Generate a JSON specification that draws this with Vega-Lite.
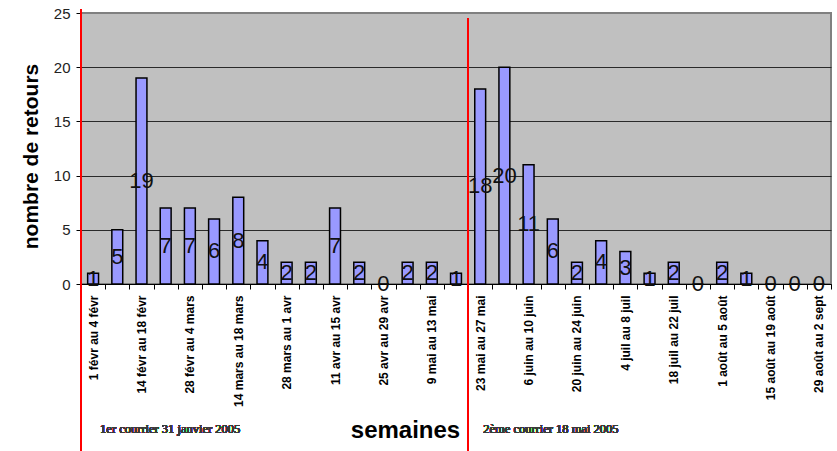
{
  "$schema": "https://vega.github.io/schema/vega-lite/v6.json",
  "autosize": "none",
  "width": 750,
  "height": 271,
  "padding": {"left": 81, "top": 13, "right": 6, "bottom": 167},
  "background": "#ffffff",
  "config": {
    "view": {"fill": "#c0c0c0", "stroke": "#808080", "strokeWidth": 2},
    "font": "Liberation Sans"
  },
  "data": {
    "values": [
      {"semaine": "1 févr au 4 févr", "retours": 1},
      {"semaine": "7 févr au 11 févr", "retours": 5},
      {"semaine": "14 févr au 18 févr", "retours": 19},
      {"semaine": "21 févr au 25 févr", "retours": 7},
      {"semaine": "28 févr au 4 mars", "retours": 7},
      {"semaine": "7 mars au 11 mars", "retours": 6},
      {"semaine": "14 mars au 18 mars", "retours": 8},
      {"semaine": "21 mars au 25 mars", "retours": 4},
      {"semaine": "28 mars au 1 avr", "retours": 2},
      {"semaine": "4 avr au 8 avr", "retours": 2},
      {"semaine": "11 avr au 15 avr", "retours": 7},
      {"semaine": "18 avr au 22 avr", "retours": 2},
      {"semaine": "25 avr au 29 avr", "retours": 0},
      {"semaine": "2 mai au 6 mai", "retours": 2},
      {"semaine": "9 mai au 13 mai", "retours": 2},
      {"semaine": "16 mai au 20 mai", "retours": 1},
      {"semaine": "23 mai au 27 mai", "retours": 18},
      {"semaine": "30 mai au 3 juin", "retours": 20},
      {"semaine": "6 juin au 10 juin", "retours": 11},
      {"semaine": "13 juin au 17 juin", "retours": 6},
      {"semaine": "20 juin au 24 juin", "retours": 2},
      {"semaine": "27 juin au 1 juil", "retours": 4},
      {"semaine": "4 juil au 8 juil", "retours": 3},
      {"semaine": "11 juil au 15 juil", "retours": 1},
      {"semaine": "18 juil au 22 juil", "retours": 2},
      {"semaine": "25 juil au 29 juil", "retours": 0},
      {"semaine": "1 août au 5 août", "retours": 2},
      {"semaine": "8 août au 12 août", "retours": 1},
      {"semaine": "15 août au 19 août", "retours": 0},
      {"semaine": "22 août au 26 août", "retours": 0},
      {"semaine": "29 août au 2 sept", "retours": 0}
    ]
  },
  "encoding": {
    "x": {
      "field": "semaine",
      "type": "nominal",
      "sort": null,
      "scale": {"paddingInner": 0, "paddingOuter": 0},
      "axis": {
        "title": "semaines",
        "titleFont": "Liberation Sans",
        "titleFontSize": 24,
        "titleFontWeight": "bold",
        "titleColor": "#000000",
        "titleX": 324,
        "titleY": 153,
        "titleAlign": "center",
        "titleBaseline": "alphabetic",
        "labelAngle": -90,
        "labelAlign": "right",
        "labelBaseline": "middle",
        "labelFont": "Liberation Sans",
        "labelFontSize": 12,
        "labelFontWeight": "bold",
        "labelColor": "#000000",
        "labelPadding": 6,
        "labelOverlap": false,
        "labelLimit": 200,
        "labelExpr": "indexof(['1 févr au 4 févr','14 févr au 18 févr','28 févr au 4 mars','14 mars au 18 mars','28 mars au 1 avr','11 avr au 15 avr','25 avr au 29 avr','9 mai au 13 mai','23 mai au 27 mai','6 juin au 10 juin','20 juin au 24 juin','4 juil au 8 juil','18 juil au 22 juil','1 août au 5 août','15 août au 19 août','29 août au 2 sept'], datum.value) >= 0 ? datum.label : ''",
        "tickBand": "extent",
        "tickSize": 5,
        "tickColor": "#000000",
        "domainColor": "#000000",
        "domainWidth": 1
      }
    }
  },
  "layer": [
    {
      "mark": {"type": "bar", "width": {"band": 0.45}, "fill": "#9999ff", "stroke": "#000000", "strokeWidth": 1.5},
      "encoding": {
        "y": {
          "field": "retours",
          "type": "quantitative",
          "scale": {"domain": [0, 25], "nice": false},
          "axis": {
            "title": "nombre de retours",
            "titleFont": "Liberation Sans",
            "titleFontSize": 21,
            "titleFontWeight": "bold",
            "titleColor": "#000000",
            "titleAngle": -90,
            "titleX": -50,
            "titleY": 143,
            "titleAlign": "center",
            "titleBaseline": "middle",
            "values": [0, 5, 10, 15, 20, 25],
            "labelFont": "Liberation Sans",
            "labelFontSize": 15,
            "labelColor": "#222222",
            "labelPadding": 6,
            "tickSize": 5,
            "tickColor": "#000000",
            "domainColor": "#000000",
            "grid": true,
            "gridColor": {"condition": {"test": "datum.value == 25", "value": "#808080"}, "value": "#2a2a2a"},
            "gridWidth": 1
          }
        }
      }
    },
    {
      "transform": [{"calculate": "datum.retours / 2", "as": "milieu"}],
      "mark": {"type": "text", "fontSize": 22, "color": "#111111", "baseline": "middle", "align": "center", "font": "Liberation Sans"},
      "encoding": {
        "y": {"field": "milieu", "type": "quantitative"},
        "text": {"field": "retours", "type": "quantitative"}
      }
    },
    {
      "mark": {"type": "rule", "color": "#ff0000", "strokeWidth": 1.5},
      "encoding": {
        "x": {"datum": "1 févr au 4 févr", "bandPosition": 0},
        "y": {"datum": 25.3},
        "y2": {"datum": -15.5}
      }
    },
    {
      "mark": {"type": "rule", "color": "#ff0000", "strokeWidth": 1.5},
      "encoding": {
        "x": {"datum": "23 mai au 27 mai", "bandPosition": 0},
        "y": {"datum": 24.5},
        "y2": {"datum": -15.5}
      }
    },
    {
      "mark": {"type": "text", "font": "Liberation Serif", "fontSize": 12.5, "fontWeight": 400, "color": "#3a3a3a", "align": "left", "baseline": "alphabetic", "dx": 7},
      "encoding": {
        "x": {"datum": "1 févr au 4 févr"},
        "y": {"datum": -13.7},
        "text": {"value": "1er courrier 31 janvier 2005"}
      }
    },
    {
      "mark": {"type": "text", "font": "Liberation Serif", "fontSize": 12.5, "fontWeight": 400, "color": "#3a3a3a", "align": "left", "baseline": "alphabetic", "dx": 3},
      "encoding": {
        "x": {"datum": "23 mai au 27 mai"},
        "y": {"datum": -13.7},
        "text": {"value": "2ème courrier 18 mai 2005"}
      }
    }
  ]
}
